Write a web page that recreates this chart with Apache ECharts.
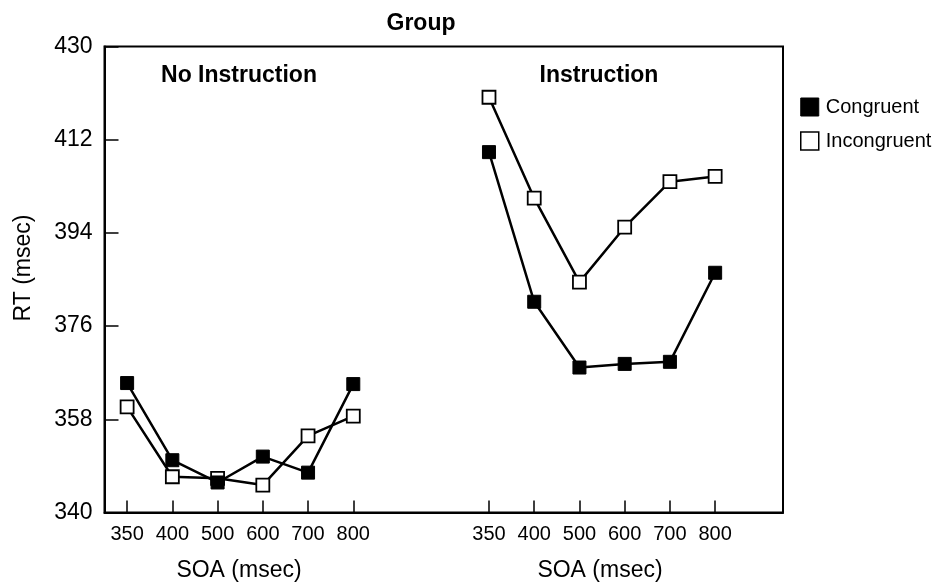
<!DOCTYPE html>
<html>
<head>
<meta charset="utf-8">
<script src="https://cdn.jsdelivr.net/npm/echarts@6/dist/echarts.min.js"></script>
<style>html,body{margin:0;padding:0;background:#fff;}#c{width:941px;height:586px;}</style>
</head>
<body>
<div id="c"></div>
<script>
const soaLabels = ['350', '400', '500', '600', '700', '800'];
const noInstrPos = [0, 1, 2, 3, 4, 5];
const instrPos = [8, 9, 10, 11, 12, 13];
const noInstrCongruent = [365.0, 350.1, 345.8, 350.8, 347.7, 364.8];
const noInstrIncongruent = [360.4, 346.9, 346.6, 345.3, 354.8, 358.6];
const instrCongruent = [409.6, 380.7, 368.0, 368.7, 369.1, 386.3];
const instrIncongruent = [420.2, 400.7, 384.5, 395.1, 403.9, 404.9];
const yTicks = [340, 358, 376, 394, 412, 430];

const FONT = 'Liberation Sans, Arial, Helvetica, sans-serif';
const tickPos = noInstrPos.concat(instrPos);
function pairs(pos, vals) { return pos.map((p, i) => [p, vals[i]]); }
function labelFor(v) {
  let i = noInstrPos.indexOf(v);
  if (i < 0) i = instrPos.indexOf(v);
  return i < 0 ? '' : soaLabels[i];
}
const congStyle = { color: '#000', borderColor: '#000', borderWidth: 1 };
const incStyle = { color: '#fff', borderColor: '#000', borderWidth: 1.8 };
function mk(name, data, style, z) {
  return {
    name: name, type: 'line', data: data, symbol: 'rect', symbolSize: 13,
    lineStyle: { color: '#000', width: 2.5 }, itemStyle: style, z: z,
    emphasis: { disabled: true }, animation: false
  };
}
const chart = echarts.init(document.getElementById('c'));
chart.setOption({
  backgroundColor: '#fff',
  animation: false,
  grid: { left: 104.5, top: 46.5, right: 158, bottom: 73.5, show: true, borderColor: '#000', borderWidth: 2, backgroundColor: 'transparent' },
  xAxis: {
    type: 'value', min: -0.5, max: 14.5,
    splitLine: { show: false },
    axisLine: { show: true, onZero: false, lineStyle: { color: '#000', width: 2 } },
    axisTick: { show: true, inside: true, length: 12, customValues: tickPos, lineStyle: { color: '#000', width: 1.5 } },
    axisLabel: { customValues: tickPos, formatter: v => labelFor(v), fontSize: 20, color: '#000', fontFamily: FONT, margin: 12 }
  },
  yAxis: {
    type: 'value', min: yTicks[0], max: yTicks[yTicks.length - 1], interval: 18,
    splitLine: { show: false },
    axisLine: { show: true, onZero: false, lineStyle: { color: '#000', width: 2 } },
    axisTick: { show: true, inside: true, length: 14, lineStyle: { color: '#000', width: 1.5 } },
    axisLabel: { fontSize: 23, color: '#000', fontFamily: FONT, margin: 12 }
  },
  legend: {
    orient: 'vertical', left: 795, top: 92, itemWidth: 18, itemHeight: 18, itemGap: 14,
    icon: 'rect', selectedMode: false,
    textStyle: { fontSize: 20, color: '#000', fontFamily: FONT, padding: [0, 0, 0, 2] },
    data: [
      { name: 'Congruent', itemStyle: { color: '#000', borderColor: '#000', borderWidth: 1 } },
      { name: 'Incongruent', itemStyle: { color: '#fff', borderColor: '#000', borderWidth: 1.5 } }
    ]
  },
  graphic: [
    { type: 'text', style: { text: 'Group', font: 'bold 23px ' + FONT, fill: '#000', textAlign: 'center', textVerticalAlign: 'middle', x: 421, y: 24 } },
    { type: 'text', style: { text: 'No Instruction', font: 'bold 23px ' + FONT, fill: '#000', textAlign: 'center', textVerticalAlign: 'middle', x: 239, y: 76 } },
    { type: 'text', style: { text: 'Instruction', font: 'bold 23px ' + FONT, fill: '#000', textAlign: 'center', textVerticalAlign: 'middle', x: 599, y: 76 } },
    { type: 'text', style: { text: 'SOA (msec)', font: '23px ' + FONT, fill: '#000', textAlign: 'center', textVerticalAlign: 'middle', x: 239, y: 571 } },
    { type: 'text', style: { text: 'SOA (msec)', font: '23px ' + FONT, fill: '#000', textAlign: 'center', textVerticalAlign: 'middle', x: 600, y: 571 } },
    { type: 'text', x: 24, y: 268, rotation: Math.PI / 2, style: { text: 'RT (msec)', font: '23px ' + FONT, fill: '#000', textAlign: 'center', textVerticalAlign: 'middle', x: 0, y: 0 } }
  ],
  series: [
    mk('Incongruent', pairs(noInstrPos, noInstrIncongruent), incStyle, 2),
    mk('Incongruent', pairs(instrPos, instrIncongruent), incStyle, 2),
    mk('Congruent', pairs(noInstrPos, noInstrCongruent), congStyle, 3),
    mk('Congruent', pairs(instrPos, instrCongruent), congStyle, 3)
  ]
});
</script>
</body>
</html>
